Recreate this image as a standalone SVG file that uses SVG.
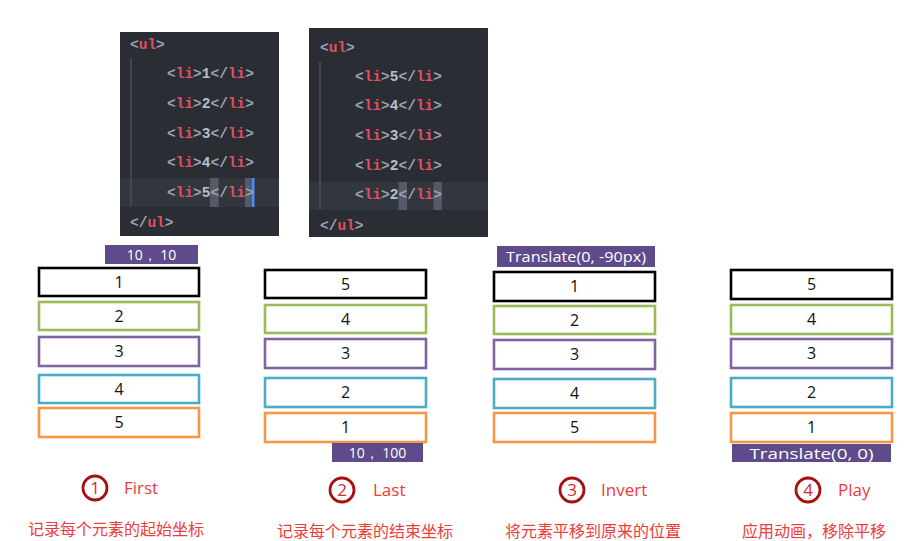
<svg xmlns="http://www.w3.org/2000/svg" width="914" height="541" viewBox="0 0 914 541">
<style>
.code{fill:#2a2d34}
.row{fill:#32363e}
.guide{stroke:#4a4e57;stroke-width:1.5}
.sel{fill:#555b66}
.ct{font-family:"Liberation Mono","DejaVu Sans Mono",monospace;font-size:14.5px;font-weight:bold}
.p{fill:#9aa3b2}
.t{fill:#e0505e}
.n{fill:#b8bec9}
.box{fill:#fff;stroke-width:2.6}
.k{stroke:#000}.g{stroke:#9bbb59}.v{stroke:#8064a2}.c{stroke:#4bacc6}.o{stroke:#f79646}
.num{font-family:"Open Sans","Liberation Sans",sans-serif;font-size:16px;fill:#111;text-anchor:middle}
.tag{fill:#5f4a8b}
.tagt{font-family:"Open Sans","Liberation Sans",sans-serif;font-size:14px;fill:#fff;text-anchor:middle}
.circ{fill:none;stroke:#a81010;stroke-width:2.8}
.cn{font-family:"Open Sans","Liberation Sans",sans-serif;font-size:17px;fill:#d42a2a;text-anchor:middle}
.lab{font-family:"Open Sans","Liberation Sans",sans-serif;font-size:17px;fill:#ee3b3b}
.zh{font-family:"Noto Sans CJK SC","Liberation Sans",sans-serif;font-size:16px;fill:#ee3b3b}
</style>

<g id="code-first">
<rect class="code" x="120" y="32" width="159" height="204"/>
<rect class="row" x="120" y="178" width="159" height="29"/>
<line class="guide" x1="131" y1="58" x2="131" y2="206"/>
<rect class="sel" x="210" y="178" width="8.5" height="29"/>
<rect class="sel" x="245" y="178" width="8.5" height="29"/>
<rect x="252" y="178" width="2.5" height="29" fill="#4d8cf5"/>
<text class="ct" x="130" y="49"><tspan class="p">&lt;</tspan><tspan class="t">ul</tspan><tspan class="p">&gt;</tspan></text>
<text class="ct" x="167" y="78"><tspan class="p">&lt;</tspan><tspan class="t">li</tspan><tspan class="p">&gt;</tspan><tspan class="n">1</tspan><tspan class="p">&lt;/</tspan><tspan class="t">li</tspan><tspan class="p">&gt;</tspan></text>
<text class="ct" x="167" y="108"><tspan class="p">&lt;</tspan><tspan class="t">li</tspan><tspan class="p">&gt;</tspan><tspan class="n">2</tspan><tspan class="p">&lt;/</tspan><tspan class="t">li</tspan><tspan class="p">&gt;</tspan></text>
<text class="ct" x="167" y="138"><tspan class="p">&lt;</tspan><tspan class="t">li</tspan><tspan class="p">&gt;</tspan><tspan class="n">3</tspan><tspan class="p">&lt;/</tspan><tspan class="t">li</tspan><tspan class="p">&gt;</tspan></text>
<text class="ct" x="167" y="167"><tspan class="p">&lt;</tspan><tspan class="t">li</tspan><tspan class="p">&gt;</tspan><tspan class="n">4</tspan><tspan class="p">&lt;/</tspan><tspan class="t">li</tspan><tspan class="p">&gt;</tspan></text>
<text class="ct" x="167" y="197"><tspan class="p">&lt;</tspan><tspan class="t">li</tspan><tspan class="p">&gt;</tspan><tspan class="n">5</tspan><tspan class="p">&lt;/</tspan><tspan class="t">li</tspan><tspan class="p">&gt;</tspan></text>
<text class="ct" x="130" y="227"><tspan class="p">&lt;/</tspan><tspan class="t">ul</tspan><tspan class="p">&gt;</tspan></text>
</g>

<g id="code-last">
<rect class="code" x="309" y="28" width="179" height="209"/>
<rect class="row" x="309" y="182" width="179" height="28"/>
<line class="guide" x1="320" y1="62" x2="320" y2="210"/>
<rect class="sel" x="398.5" y="182" width="8.5" height="28"/>
<rect class="sel" x="433.5" y="182" width="8.5" height="28"/>
<text class="ct" x="320" y="52"><tspan class="p">&lt;</tspan><tspan class="t">ul</tspan><tspan class="p">&gt;</tspan></text>
<text class="ct" x="355" y="81"><tspan class="p">&lt;</tspan><tspan class="t">li</tspan><tspan class="p">&gt;</tspan><tspan class="n">5</tspan><tspan class="p">&lt;/</tspan><tspan class="t">li</tspan><tspan class="p">&gt;</tspan></text>
<text class="ct" x="355" y="110"><tspan class="p">&lt;</tspan><tspan class="t">li</tspan><tspan class="p">&gt;</tspan><tspan class="n">4</tspan><tspan class="p">&lt;/</tspan><tspan class="t">li</tspan><tspan class="p">&gt;</tspan></text>
<text class="ct" x="355" y="140"><tspan class="p">&lt;</tspan><tspan class="t">li</tspan><tspan class="p">&gt;</tspan><tspan class="n">3</tspan><tspan class="p">&lt;/</tspan><tspan class="t">li</tspan><tspan class="p">&gt;</tspan></text>
<text class="ct" x="355" y="170"><tspan class="p">&lt;</tspan><tspan class="t">li</tspan><tspan class="p">&gt;</tspan><tspan class="n">2</tspan><tspan class="p">&lt;/</tspan><tspan class="t">li</tspan><tspan class="p">&gt;</tspan></text>
<text class="ct" x="355" y="199"><tspan class="p">&lt;</tspan><tspan class="t">li</tspan><tspan class="p">&gt;</tspan><tspan class="n">2</tspan><tspan class="p">&lt;/</tspan><tspan class="t">li</tspan><tspan class="p">&gt;</tspan></text>
<text class="ct" x="320" y="230"><tspan class="p">&lt;/</tspan><tspan class="t">ul</tspan><tspan class="p">&gt;</tspan></text>
</g>

<g id="col-first">
<rect class="tag" x="105" y="245" width="93" height="19"/>
<text class="tagt" x="151.5" y="260">10， 10</text>
<rect class="box k" x="39" y="268" width="160" height="28"/><text class="num" x="119" y="288">1</text>
<rect class="box g" x="39" y="302" width="160" height="28"/><text class="num" x="119" y="322">2</text>
<rect class="box v" x="39" y="337" width="160" height="29"/><text class="num" x="119" y="357">3</text>
<rect class="box c" x="39" y="375" width="160" height="28"/><text class="num" x="119" y="395">4</text>
<rect class="box o" x="39" y="408" width="160" height="29"/><text class="num" x="119" y="428">5</text>
</g>

<g id="col-last">
<rect class="box k" x="265" y="270" width="161" height="28"/><text class="num" x="345.5" y="290">5</text>
<rect class="box g" x="265" y="305" width="161" height="28"/><text class="num" x="345.5" y="325">4</text>
<rect class="box v" x="265" y="339" width="161" height="29"/><text class="num" x="345.5" y="359">3</text>
<rect class="box c" x="265" y="378" width="161" height="29"/><text class="num" x="345.5" y="398">2</text>
<rect class="box o" x="265" y="413" width="161" height="29"/><text class="num" x="345.5" y="433">1</text>
<rect class="tag" x="332" y="443" width="91" height="19"/>
<text class="tagt" x="377.5" y="458">10， 100</text>
</g>

<g id="col-invert">
<rect class="tag" x="497" y="246" width="158" height="21"/>
<text class="tagt" x="576" y="262" textLength="140" lengthAdjust="spacingAndGlyphs">Translate(0, -90px)</text>
<rect class="box k" x="494" y="272" width="161" height="29"/><text class="num" x="574.5" y="292">1</text>
<rect class="box g" x="494" y="306" width="161" height="28"/><text class="num" x="574.5" y="326">2</text>
<rect class="box v" x="494" y="340" width="161" height="29"/><text class="num" x="574.5" y="360">3</text>
<rect class="box c" x="494" y="379" width="161" height="29"/><text class="num" x="574.5" y="399">4</text>
<rect class="box o" x="494" y="413" width="161" height="29"/><text class="num" x="574.5" y="433">5</text>
</g>

<g id="col-play">
<rect class="box k" x="731" y="270" width="161" height="29"/><text class="num" x="811.5" y="290">5</text>
<rect class="box g" x="731" y="305" width="161" height="29"/><text class="num" x="811.5" y="325">4</text>
<rect class="box v" x="731" y="339" width="161" height="29"/><text class="num" x="811.5" y="359">3</text>
<rect class="box c" x="731" y="378" width="161" height="29"/><text class="num" x="811.5" y="398">2</text>
<rect class="box o" x="731" y="413" width="161" height="29"/><text class="num" x="811.5" y="433">1</text>
<rect class="tag" x="732" y="444" width="159" height="18"/>
<text class="tagt" x="811.5" y="459" textLength="124" lengthAdjust="spacingAndGlyphs">Translate(0, 0)</text>
</g>

<g id="step-first">
<circle class="circ" cx="95" cy="488" r="12"/>
<text class="cn" x="95" y="494">1</text>
<text class="lab" x="124" y="494">First</text>
<text class="zh" x="28" y="535">记录每个元素的起始坐标</text>
</g>

<g id="step-last">
<circle class="circ" cx="342" cy="490" r="12"/>
<text class="cn" x="342" y="496">2</text>
<text class="lab" x="373" y="496">Last</text>
<text class="zh" x="277" y="537">记录每个元素的结束坐标</text>
</g>

<g id="step-invert">
<circle class="circ" cx="572" cy="490" r="12"/>
<text class="cn" x="572" y="496">3</text>
<text class="lab" x="601" y="496">Invert</text>
<text class="zh" x="505" y="537">将元素平移到原来的位置</text>
</g>

<g id="step-play">
<circle class="circ" cx="808" cy="490" r="12"/>
<text class="cn" x="808" y="496">4</text>
<text class="lab" x="838" y="496">Play</text>
<text class="zh" x="742" y="537">应用动画，移除平移</text>
</g>
</svg>
